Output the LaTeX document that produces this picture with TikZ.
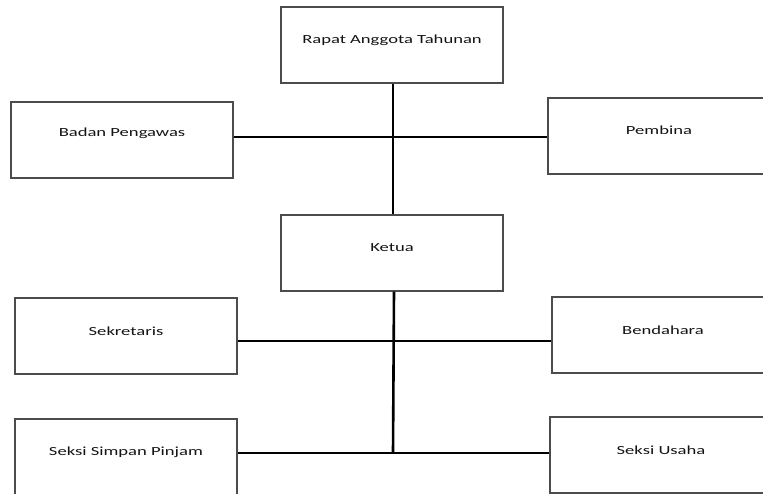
\documentclass[tikz,border=0pt]{standalone}
\usepackage{fontspec}
\setmainfont{Carlito}[FakeStretch=1.5]
\begin{document}
\begin{tikzpicture}[x=1pt,y=1pt,
  box/.style={draw=black!70,line width=1.1pt,minimum width=222pt,minimum height=76pt,inner sep=0pt,fill=white},
  txt/.style={font=\fontsize{12.4}{14}\selectfont,text=black!92,inner sep=0pt},
  vline/.style={line width=2.6pt,black},
  hline/.style={line width=1.7pt,black}]
\useasboundingbox (0,0) rectangle (763,-493);
\clip (0,0) rectangle (763,-493);
\fill[white] (0,0) rectangle (763,-493);
% boxes
\node[box] (rat) at (392,-45) {};
\node[box] (bp) at (122,-140) {};
\node[box] (pb) at (659,-136) {};
\node[box] (ket) at (392,-253) {};
\node[box] (sek) at (126,-336) {};
\node[box] (ben) at (663,-335) {};
\node[box] (ssp) at (126,-457) {};
\node[box] (su) at (661,-455) {};
% junctions
\coordinate (j1) at (393,-137);
\coordinate (j2) at (393,-341);
\coordinate (j3) at (393,-453);
% connectors
\draw[vline] (rat.south -| j1) -- (ket.north -| j1);
\draw[hline] (bp.east |- j1) -- (pb.west |- j1);
\draw[vline] ([xshift=1pt]ket.south -| j2) -- (j3);
\draw[hline] (sek.east |- j2) -- (ben.west |- j2);
\draw[hline] (ssp.east |- j3) -- (su.west |- j3);
% texts
\node[txt] (trat) at ([yshift=5pt]rat.center) {Rapat Anggota Tahunan};
\node[txt] (tbp) at ([yshift=7pt]bp.center) {Badan Pengawas};
\node[txt] (tpb) at ([yshift=6pt]pb.center) {Pembina};
\node[txt] (tket) at ([yshift=5pt]ket.center) {Ketua};
\node[txt] (tsek) at ([yshift=5pt]sek.center) {Sekretaris};
\node[txt] (tben) at ([yshift=5pt]ben.center) {Bendahara};
\node[txt] (tssp) at (126,-452) {Seksi Simpan Pinjam};
\node[txt] (tsu) at (661,-450) {Seksi Usaha};
\end{tikzpicture}
\end{document}
